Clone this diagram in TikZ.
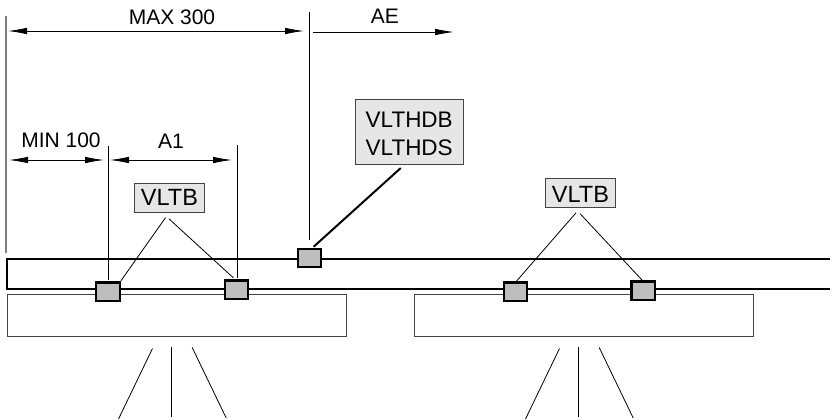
\documentclass[tikz,border=0pt]{standalone}
\usepackage{fontspec}
\setmainfont{Liberation Sans}
\usetikzlibrary{arrows.meta}
\definecolor{boxgray}{HTML}{E6E6E6}
\definecolor{tapgray}{HTML}{BEBEBE}
\definecolor{edgegray}{HTML}{444444}
\tikzset{
  every node/.style={font=\fontsize{21}{27}\selectfont,outer sep=0pt},
  label/.style={draw=edgegray,fill=boxgray,line width=0.9pt,inner sep=0pt,align=center,font=\fontsize{23.5}{28}\selectfont},
  tap/.style={draw=black,fill=tapgray,line width=2.2pt,minimum width=23.5pt,minimum height=18.5pt,inner sep=0pt},
  plate/.style={draw=edgegray,line width=1pt,minimum height=42pt,inner sep=0pt},
  bus/.style={line width=2pt},
  leader/.style={line width=0.8pt},
  dimline/.style={line width=0.8pt,{Latex[length=19pt,width=6.5pt]}-{Latex[length=19pt,width=6.5pt]}},
  dimend/.style={line width=0.8pt,-{Latex[length=19pt,width=6.5pt]}}
}
\begin{document}
\begin{tikzpicture}[x=1pt,y=-1pt]
      \useasboundingbox (0,0) rectangle (833,420);
      %% Plates
      \node[plate,minimum width=339pt] (P1) at (177,315) {};
      \node[plate,minimum width=338.6pt] (P2) at (584,315) {};
      %% Bus
      \coordinate (T) at (830,258.8);
      \coordinate (L) at (7,258.8);
      \coordinate (K) at (7,288.6);
      \coordinate (R) at (830,288.6);
      \draw[bus] (T) -- (L) -- (K) -- (R);
      %% Taps
      \node[tap] (S1) at (108,291.7) {};
      \node[tap,right of=S1,xshift=99.9pt,yshift=1.9pt] (S2) {};
      \node[tap,right of=S2,xshift=44.6pt,yshift=31.8pt] (S3) {};
      \node[tap,right of=S1,xshift=378.9pt] (S4) {};
      \node[tap,right of=S4,xshift=99.5pt,yshift=1pt] (S5) {};
      %% Labels
      \node[label,minimum width=70pt,minimum height=29pt] (B1) at (169.5,197.5) {VLTB};
      \node[label,minimum width=70.4pt,minimum height=29.4pt,text height=19.5pt] (B2) at (580.5,193) {VLTB};
      \node[label,minimum width=108.5pt,minimum height=65pt,text height=49pt,font=\fontsize{22.5}{28}\selectfont] (B3) at (409.2,131.5) {VLTHDB\\VLTHDS};
      %% Extension lines
      \coordinate (E0) at (6,16);
      \coordinate (E1) at (108.5,146);
      \coordinate (E2) at (237.3,145);
      \coordinate (E3) at (309.5,12);
      \coordinate (E4) at (6,253);
      \draw[gray,line width=1.3pt] (E0) -- (E4);
      \draw[leader,shorten >=2.7pt] (E1) -- (E1 |- S1.north);
      \draw[leader,shorten >=2.7pt] (E2) -- (E2 |- S2.north);
      \draw[leader,shorten >=8.4pt] (E3) -- (E3 |- S3.north);
      %% Dimension arrows
      \coordinate (D1) at (8,31);
      \coordinate (D2) at (304,31);
      \coordinate (D3) at (313,32);
      \coordinate (D4) at (454,32);
      \coordinate (D5) at (9,160);
      \coordinate (D6) at (104,160);
      \coordinate (D7) at (110,160);
      \coordinate (D8) at (232,160);
      \draw[dimline] (D1) -- node[pos=.554,above=6pt,inner sep=0pt] {MAX 300} (D2);
      \draw[dimend] (D3) -- node[pos=.51,above=8pt,inner sep=0pt] {AE} (D4);
      \draw[dimline] (D5) -- node[pos=.547,above=12pt,inner sep=0pt] {MIN 100} (D6);
      \draw[dimline] (D7) -- node[above=12pt,inner sep=0pt] {A1} (D8);
      %% Leaders
      \draw[leader,shorten <=7pt,shorten >=2pt] (B1.south) -- (S1.north east);
      \draw[leader,shorten <=10pt,shorten >=4pt] ([xshift=-8pt]B1.south) -- (S2.north);
      \draw[leader,shorten <=7pt,shorten >=2pt] (B2.south) -- (S4.north);
      \draw[leader,shorten <=8pt,shorten >=2pt] ([xshift=-6pt]B2.south) -- (S5.north);
      \draw[line width=2pt,shorten <=6pt,shorten >=3pt] ([xshift=-4pt]B3.south) -- ([xshift=2pt]S3.north);
      %% Fan lines
      \foreach \x/\n in {177/A,584/C} {
        \coordinate (\n1) at (\x-24.5,348.5);
        \coordinate (\n2) at (\x-58.5,419);
        \coordinate (\n3) at (\x-5.5,347);
        \coordinate (\n4) at (\x-5.5,417);
        \coordinate (\n5) at (\x+15.2,347.5);
        \coordinate (\n6) at (\x+49.2,418);
        \draw[leader] (\n1) -- (\n2);
        \draw[leader] (\n3) -- (\n4);
        \draw[leader] (\n5) -- (\n6);
      }
    \end{tikzpicture}
\end{document}
